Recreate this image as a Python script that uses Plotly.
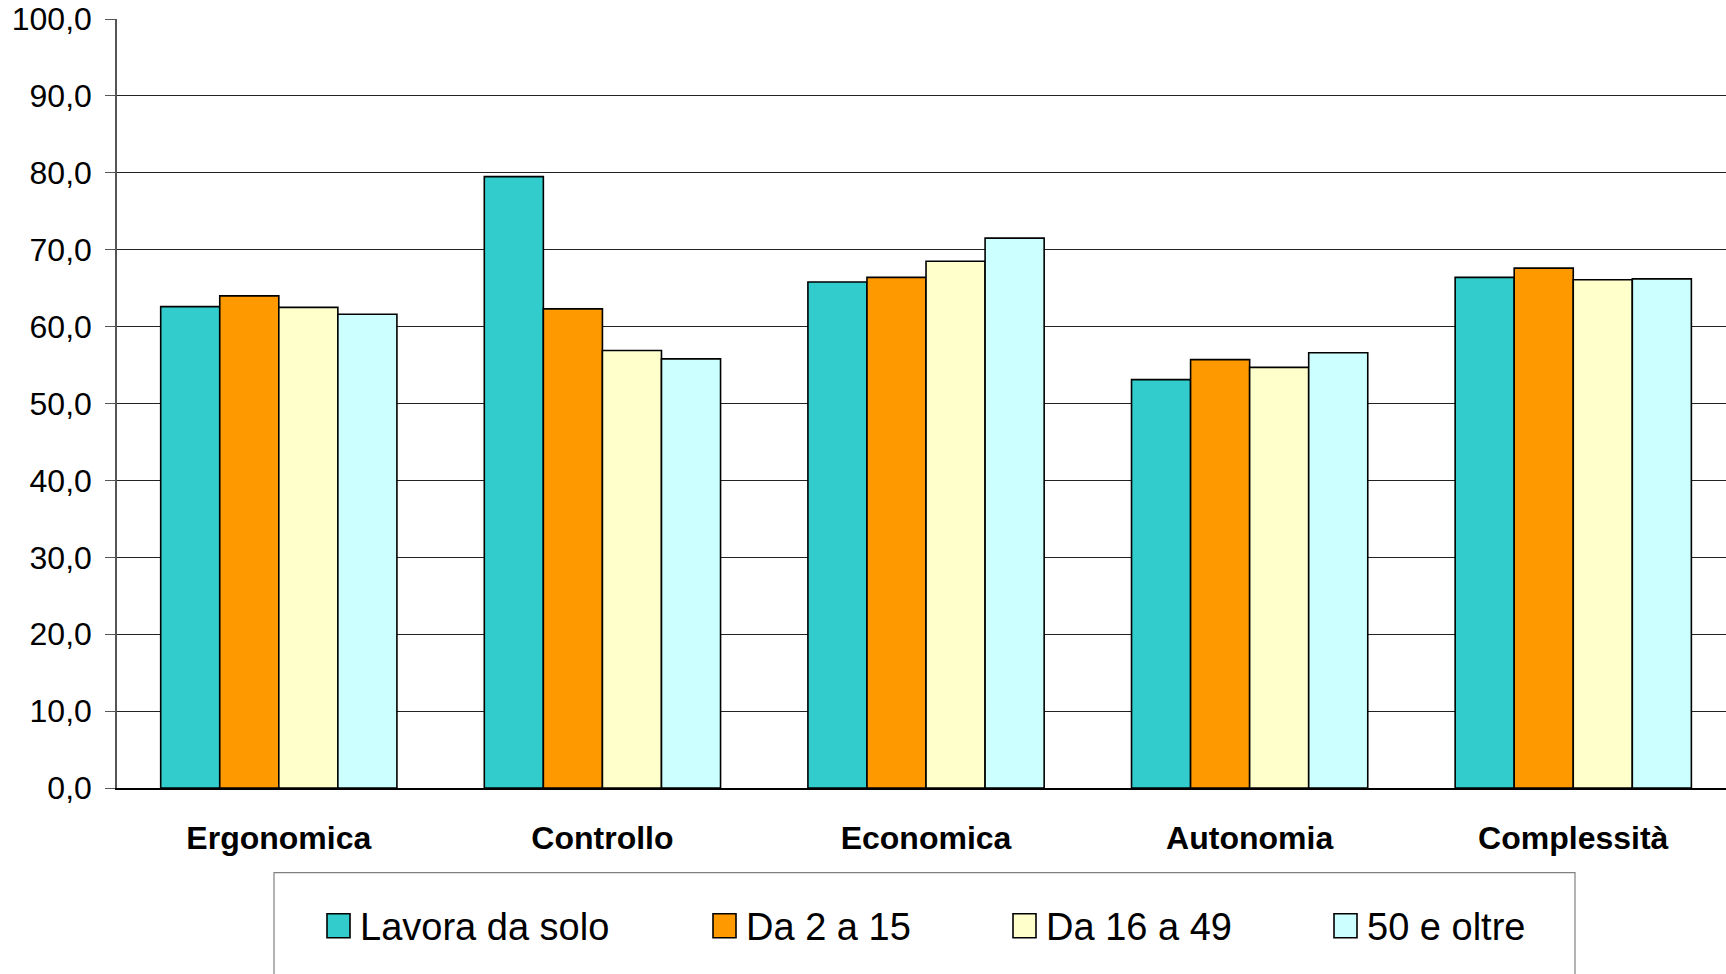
import plotly.graph_objects as go

# Categories and series values
categories = ["Ergonomica", "Controllo", "Economica", "Autonomia", "Complessità"]
series_names = ["Lavora da solo", "Da 2 a 15", "Da 16 a 49", "50 e oltre"]
lavora_da_solo = [62.6, 79.5, 65.8, 53.1, 66.4]
da_2_a_15 = [64.0, 62.3, 66.4, 55.7, 67.6]
da_16_a_49 = [62.5, 56.9, 68.5, 54.7, 66.1]
cinquanta_e_oltre = [61.6, 55.8, 71.5, 56.6, 66.2]
y_ticks = [0, 10, 20, 30, 40, 50, 60, 70, 80, 90, 100]
y_tick_labels = ["0,0", "10,0", "20,0", "30,0", "40,0", "50,0",
                 "60,0", "70,0", "80,0", "90,0", "100,0"]

colors = ["#33CCCC", "#FF9900", "#FFFFCC", "#CCFFFF"]
series_values = [lavora_da_solo, da_2_a_15, da_16_a_49, cinquanta_e_oltre]

W, H = 1726, 974
L, T, B = 117, 19.3, 788.3
FONT = "Liberation Sans, Arial, Helvetica, sans-serif"

fig = go.Figure()
for name, vals, col in zip(series_names, series_values, colors):
    fig.add_trace(go.Bar(
        x=categories, y=vals, name=name,
        marker=dict(color=col, line=dict(color="#000000", width=1.6)),
        showlegend=False,
    ))


def px_x(px):
    return (px - L) / (W - L)


def px_y(py):
    return (B - py) / (B - T)


# Legend frame and entries, placed in pixel terms below the plot
shapes = [dict(type="rect", xref="paper", yref="paper",
               x0=px_x(274), x1=px_x(1575), y0=px_y(990), y1=px_y(873),
               line=dict(color="#808080", width=1.2), fillcolor="rgba(0,0,0,0)")]
annotations = []
legend_x = [327, 713, 1013, 1334]
for lx, name, col in zip(legend_x, series_names, colors):
    shapes.append(dict(type="rect", xref="paper", yref="paper",
                       x0=px_x(lx), x1=px_x(lx + 23), y0=px_y(938), y1=px_y(914),
                       line=dict(color="#000000", width=1.6), fillcolor=col))
    annotations.append(dict(xref="paper", yref="paper", x=px_x(lx + 31), y=px_y(927),
                            text=name, showarrow=False, xanchor="left", yanchor="middle",
                            font=dict(family=FONT, size=38, color="#000000")))

fig.update_layout(
    width=W, height=H,
    margin=dict(l=L, r=0, t=T, b=H - B, pad=0),
    paper_bgcolor="white", plot_bgcolor="white",
    barmode="group", bargap=0.27, bargroupgap=0,
    font=dict(family=FONT, color="#000000"),
    shapes=shapes, annotations=annotations,
    xaxis=dict(
        range=[-0.5, 4.472], showgrid=False, showline=True, linecolor="#000000",
        linewidth=1.5, ticks="", ticklabelstandoff=21,
        tickfont=dict(family=FONT, size=32, color="#000000", weight="bold"),
    ),
    yaxis=dict(
        range=[0, 100], tickvals=y_ticks, ticktext=y_tick_labels,
        showgrid=True, gridcolor="#222222", gridwidth=1,
        showline=True, linecolor="#555555", linewidth=1.5,
        ticks="outside", ticklen=10, tickcolor="#555555", tickwidth=1,
        ticklabelstandoff=7,
        tickfont=dict(family=FONT, size=32, color="#000000"),
        zeroline=False,
    ),
)

fig.write_html("out.html")
